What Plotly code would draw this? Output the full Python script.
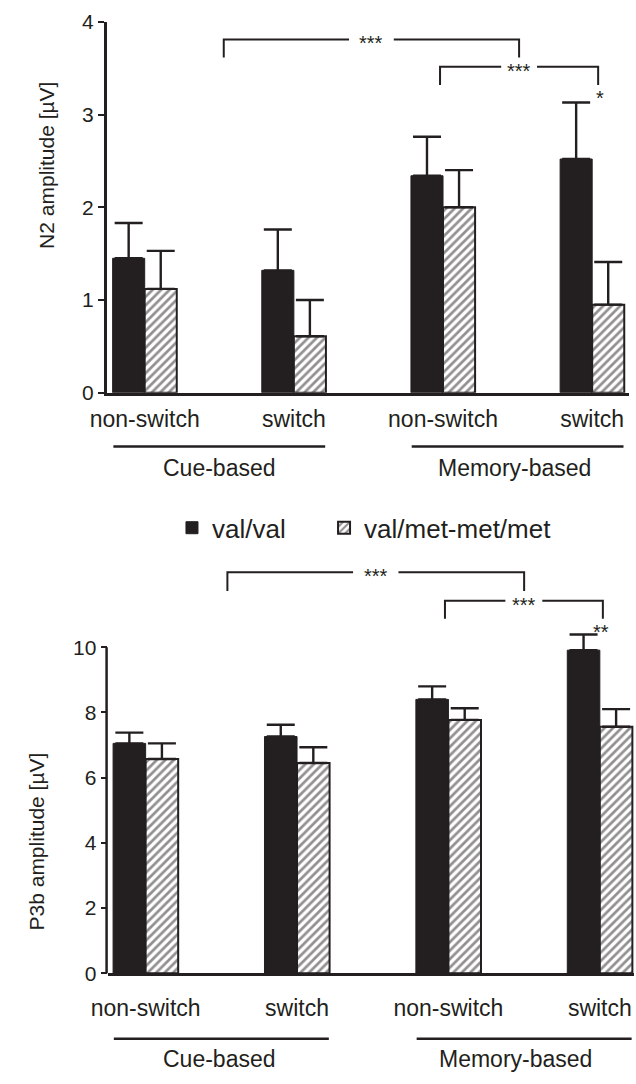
import plotly.graph_objects as go

# ---------------- data ----------------
conditions = ["non-switch", "switch", "non-switch", "switch"]
groups = ["Cue-based", "Memory-based"]
series_names = ["val/val", "val/met-met/met"]

n2_valval = [1.45, 1.32, 2.34, 2.52]
n2_valval_err = [0.38, 0.44, 0.42, 0.61]
n2_valmet = [1.12, 0.61, 2.00, 0.95]
n2_valmet_err = [0.41, 0.39, 0.40, 0.46]

p3b_valval = [7.05, 7.26, 8.40, 9.91]
p3b_valval_err = [0.33, 0.36, 0.40, 0.48]
p3b_valmet = [6.57, 6.45, 7.77, 7.56]
p3b_valmet_err = [0.48, 0.48, 0.36, 0.54]

n2_ticks = [0, 1, 2, 3, 4]
p3b_ticks = [0, 2, 4, 6, 8, 10]

# ---------------- layout helpers ----------------
W, H = 636, 1084
INK = "#231f20"
FONT = "Liberation Sans, Arial, Helvetica, sans-serif"
xs = list(range(len(conditions)))


def px(p):
    return p / W


def py(p):
    return 1 - p / H


def bar_pair(xaxis, yaxis, v1, e1, v2, e2, show):
    t1 = go.Bar(
        x=xs, y=v1, name=series_names[0], xaxis=xaxis, yaxis=yaxis,
        marker=dict(color=INK, line=dict(color=INK, width=1)),
        error_y=dict(type="data", array=e1, arrayminus=[0] * len(e1), symmetric=False,
                     color=INK, thickness=2.4, width=14),
        showlegend=show, legend="legend",
    )
    t2 = go.Bar(
        x=xs, y=v2, name=series_names[1], xaxis=xaxis, yaxis=yaxis,
        marker=dict(color="white", line=dict(color=INK, width=2),
                    pattern=dict(shape="/", fgcolor=INK, bgcolor="white", size=6, solidity=0.45)),
        error_y=dict(type="data", array=e2, arrayminus=[0] * len(e2), symmetric=False,
                     color=INK, thickness=2.4, width=14),
        showlegend=show, legend="legend2",
    )
    return [t1, t2]


fig = go.Figure()
for t in bar_pair("x", "y", n2_valval, n2_valval_err, n2_valmet, n2_valmet_err, True):
    fig.add_trace(t)
for t in bar_pair("x2", "y2", p3b_valval, p3b_valval_err, p3b_valmet, p3b_valmet_err, False):
    fig.add_trace(t)

xcommon = dict(showline=True, linecolor=INK, linewidth=2.5, ticks="", showgrid=False, zeroline=False,
               tickvals=xs, ticktext=conditions, ticklabeloverflow="allow",
               tickfont=dict(size=23, color=INK, family=FONT))
ycommon = dict(linecolor=INK, linewidth=2.5, ticks="outside", ticklen=6, tickwidth=2.2,
               tickcolor=INK, showgrid=False, zeroline=False, ticklabeloverflow="allow",
               tickfont=dict(size=21, color=INK, family=FONT))
legcommon = dict(orientation="h", xanchor="left", y=py(527), yanchor="middle",
                 font=dict(size=26, color=INK, family=FONT), bgcolor="rgba(0,0,0,0)")

# bottom panel: 10 units between pixel rows 982 and 649; a little headroom for the error bar
P3B_TOP = 10.5
p3b_unit = (982 - 649) / 10

fig.update_layout(
    width=W, height=H, autosize=False,
    margin=dict(l=0, r=0, t=0, b=0),
    paper_bgcolor="white", plot_bgcolor="white",
    font=dict(family=FONT, color=INK),
    barmode="group", bargap=0.57, bargroupgap=0,
    xaxis=dict(domain=[px(93), px(629)], range=[-0.255, 3.248], anchor="y",
               ticklabelstandoff=4, **xcommon),
    yaxis=dict(domain=[py(389), py(10)], range=[0, 4], anchor="x", tickvals=n2_ticks,
               showline=True, **ycommon),
    xaxis2=dict(domain=[px(94), px(634)], range=[-0.251, 3.226], anchor="y2",
                ticklabelstandoff=12, **xcommon),
    yaxis2=dict(domain=[py(982), py(982 - P3B_TOP * p3b_unit)], range=[0, P3B_TOP], anchor="x2",
                tickvals=p3b_ticks, showline=False, **ycommon),
    legend=dict(x=px(160), **legcommon),
    legend2=dict(x=px(316), **legcommon),
)

shapes = []
annotations = []

# bottom y-axis line, drawn only up to the last tick
shapes.append(dict(type="line", xref="x2 domain", yref="y2", x0=-0.002, x1=-0.002,
                   y0=-0.15, y1=p3b_ticks[-1], line=dict(color=INK, width=2.5)))

# group lines + labels: (axis, line_px, label_px, label centres)
for xa, line_y, label_y, centers in (("x", 444, 466, [0.5, 2.48]), ("x2", 1049, 1070, [0.49, 2.44])):
    for gc, lc, gname in zip([0.5, 2.5], centers, groups):
        shapes.append(dict(type="line", xref=xa, yref="paper", x0=gc - 0.71, x1=gc + 0.71,
                           y0=py(line_y), y1=py(line_y), line=dict(color=INK, width=2.5)))
        annotations.append(dict(xref=xa, yref="paper", x=lc, y=py(label_y), text=gname,
                                showarrow=False, xanchor="center", yanchor="middle",
                                font=dict(size=23, color=INK, family=FONT)))

# y-axis titles
annotations.append(dict(xref="paper", yref="paper", x=px(31), y=py(157), text="N2 amplitude [µV]",
                        textangle=-90, showarrow=False, xanchor="center", yanchor="middle",
                        font=dict(size=21, color=INK, family=FONT)))
annotations.append(dict(xref="paper", yref="paper", x=px(21), y=py(847), text="P3b amplitude [µV]",
                        textangle=-90, showarrow=False, xanchor="center", yanchor="middle",
                        font=dict(size=21, color=INK, family=FONT)))

# significance brackets: (axis, x0, x1, gap0, gap1, top_px, end_px, label)
brackets = [
    ("x", 0.53, 2.51, 1.37, 1.67, 28, 46.5, "***"),
    ("x", 1.98, 3.04, 2.39, 2.63, 56, 74.5, "***"),
    ("x2", 0.54, 2.50, 1.37, 1.67, 572.5, 591.5, "***"),
    ("x2", 1.977, 3.02, 2.376, 2.62, 601.5, 620, "***"),
]
for xa, x0, x1, g0, g1, ytop, yend, lab in brackets:
    yt, ye = py(ytop), py(yend)
    shapes.append(dict(type="path", xref=xa, yref="paper",
                       path=f"M {x0},{ye} L {x0},{yt} L {g0},{yt}",
                       line=dict(color=INK, width=2)))
    shapes.append(dict(type="path", xref=xa, yref="paper",
                       path=f"M {g1},{yt} L {x1},{yt} L {x1},{ye}",
                       line=dict(color=INK, width=2)))
    annotations.append(dict(xref=xa, yref="paper", x=(g0 + g1) / 2, y=yt, text=lab, showarrow=False,
                            xanchor="center", yanchor="middle", yshift=-4,
                            font=dict(size=20, color=INK, family=FONT)))

# single-comparison stars
for xa, x, ypix, lab in (("x", 3.05, 84, "*"), ("x2", 3.01, 629, "**")):
    annotations.append(dict(xref=xa, yref="paper", x=x, y=py(ypix), text=lab, showarrow=False,
                            xanchor="center", yanchor="middle", yshift=-4,
                            font=dict(size=20, color=INK, family=FONT)))

fig.update_layout(shapes=shapes, annotations=annotations)

fig.write_html("out.html", config={"displayModeBar": False},
               post_script="document.body.style.margin='0';")
